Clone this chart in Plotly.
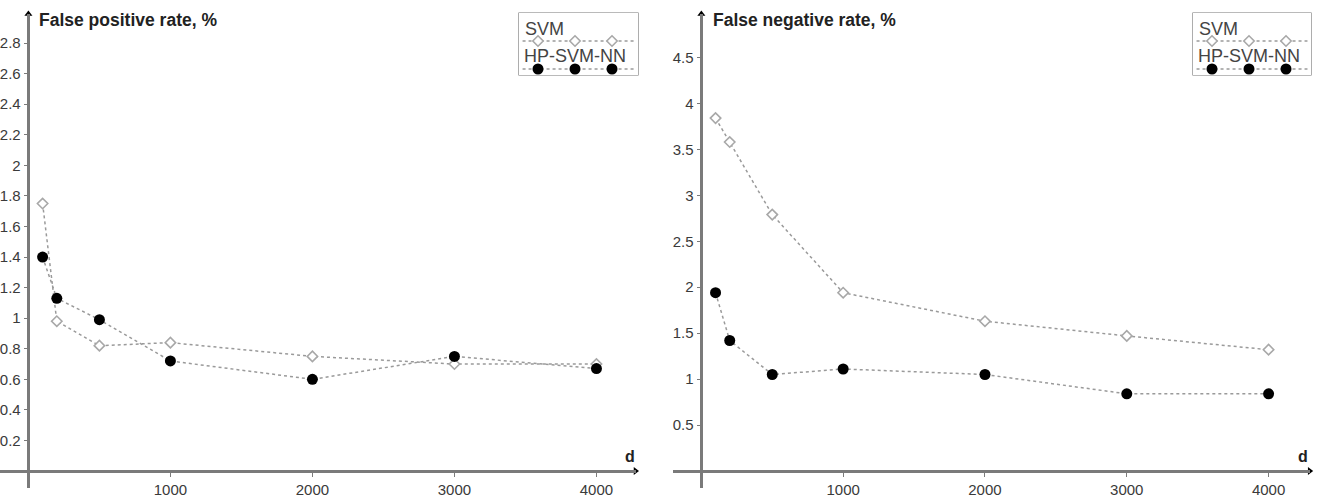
import plotly.graph_objects as go

# ---- data ----
d = [100, 200, 500, 1000, 2000, 3000, 4000]
svm_fpr = [1.75, 0.98, 0.82, 0.84, 0.75, 0.70, 0.70]
hp_fpr = [1.40, 1.13, 0.99, 0.72, 0.60, 0.75, 0.67]
svm_fnr = [3.84, 3.58, 2.79, 1.94, 1.63, 1.47, 1.32]
hp_fnr = [1.94, 1.42, 1.05, 1.11, 1.05, 0.84, 0.84]

x_ticks = [1000, 2000, 3000, 4000]
fpr_ticks = [0.2, 0.4, 0.6, 0.8, 1.0, 1.2, 1.4, 1.6, 1.8, 2.0, 2.2, 2.4, 2.6, 2.8]
fpr_labels = ["0.2", "0.4", "0.6", "0.8", "1", "1.2", "1.4", "1.6", "1.8", "2", "2.2", "2.4", "2.6", "2.8"]
fnr_ticks = [0.5, 1.0, 1.5, 2.0, 2.5, 3.0, 3.5, 4.0, 4.5]
fnr_labels = ["0.5", "1", "1.5", "2", "2.5", "3", "3.5", "4", "4.5"]
titles = ["False positive rate, %", "False negative rate, %"]
series_names = ["SVM", "HP-SVM-NN"]

W, H = 1326, 497
def px(p):
    return p / W
def py(p):
    return 1 - p / H

FONT = "Liberation Sans, Arial, sans-serif"
AXC = "#7a7a7a"
LINEC = "#9a9a9a"
TICKC = "#3a3a3a"

panels = [
    dict(xr=[-200, 4275], xd=[0, 635.5], yr=[-0.111, 2.99], ticks=fpr_ticks, labels=fpr_labels,
         svm=svm_fpr, hp=hp_fpr, title=titles[0], tx=37, leg=[519, 638, 13, 75], dx=630),
    dict(xr=[-200, 4290], xd=[673, 1309.7], yr=[-0.185, 4.973], ticks=fnr_ticks, labels=fnr_labels,
         svm=svm_fnr, hp=hp_fnr, title=titles[1], tx=711, leg=[1193, 1311, 13, 75], dx=1303),
]
ydom_px = [14, 488]
ydom = [py(ydom_px[1]), py(ydom_px[0])]

fig = go.Figure()
layout = dict(width=W, height=H, autosize=False, margin=dict(l=0, r=0, t=0, b=0),
              paper_bgcolor="white", plot_bgcolor="white", showlegend=False,
              font=dict(family=FONT, color="#444"))
shapes = []
annotations = []

for i, p in enumerate(panels):
    n = i + 1
    xa = "x" if n == 1 else f"x{n}"
    ya = "y" if n == 1 else f"y{n}"
    xd = [px(p["xd"][0]), px(p["xd"][1])]
    y0pos = ydom[0] + (0 - p["yr"][0]) / (p["yr"][1] - p["yr"][0]) * (ydom[1] - ydom[0])
    x0pos = xd[0] + (0 - p["xr"][0]) / (p["xr"][1] - p["xr"][0]) * (xd[1] - xd[0])
    layout["xaxis" if n == 1 else f"xaxis{n}"] = dict(
        domain=xd, range=p["xr"], anchor="free", position=y0pos,
        showline=True, linecolor=AXC, linewidth=2.5, showgrid=False, zeroline=False,
        tickvals=x_ticks, ticktext=[str(v) for v in x_ticks], ticks="outside", ticklen=4,
        tickcolor=AXC, tickwidth=1, tickfont=dict(size=15, color=TICKC, family=FONT),
    )
    layout["yaxis" if n == 1 else f"yaxis{n}"] = dict(
        domain=ydom, range=p["yr"], anchor="free", position=x0pos,
        showline=True, linecolor=AXC, linewidth=2.5, showgrid=False, zeroline=False,
        tickvals=p["ticks"], ticktext=p["labels"], ticks="outside", ticklen=4,
        tickcolor=AXC, tickwidth=1, tickfont=dict(size=15, color=TICKC, family=FONT),
    )
    fig.add_trace(go.Scatter(x=d, y=p["svm"], xaxis=xa, yaxis=ya, mode="lines+markers",
                             name=series_names[0],
                             line=dict(color=LINEC, width=1.5, dash="dot"),
                             marker=dict(symbol="diamond", size=8, color="white",
                                         line=dict(color="#a8a8a8", width=1.6)),
                             cliponaxis=False))
    fig.add_trace(go.Scatter(x=d, y=p["hp"], xaxis=xa, yaxis=ya, mode="lines+markers",
                             name=series_names[1],
                             line=dict(color=LINEC, width=1.5, dash="dot"),
                             marker=dict(symbol="circle", size=11, color="black",
                                         line=dict(color="black", width=0)),
                             cliponaxis=False))
    fig.add_trace(go.Scatter(x=[0], y=[p["yr"][1]], xaxis=xa, yaxis=ya, mode="markers",
                             marker=dict(symbol="triangle-up", size=7, color="black"),
                             cliponaxis=False, hoverinfo="skip"))
    fig.add_trace(go.Scatter(x=[p["xr"][1]], y=[0], xaxis=xa, yaxis=ya, mode="markers",
                             marker=dict(symbol="triangle-right", size=7, color="black"),
                             cliponaxis=False, hoverinfo="skip"))
    annotations.append(dict(xref="paper", yref="paper", x=px(p["tx"]), y=py(20),
                            xanchor="left", yanchor="middle", showarrow=False,
                            text="<b>" + p["title"] + "</b>",
                            font=dict(size=17.5, color="#222", family=FONT)))
    annotations.append(dict(xref="paper", yref="paper", x=px(p["dx"]), y=py(456),
                            xanchor="center", yanchor="middle", showarrow=False,
                            text="<b>d</b>", font=dict(size=16, color="#222", family=FONT)))
    l, r, t, b = p["leg"]
    shapes.append(dict(type="rect", xref="paper", yref="paper", x0=px(l), x1=px(r),
                       y0=py(b), y1=py(t), line=dict(color="#777", width=1.2),
                       fillcolor="white", layer="below"))
    annotations.append(dict(xref="paper", yref="paper", x=px(l + 4), y=py(29),
                            xanchor="left", yanchor="middle", showarrow=False,
                            text=series_names[0], font=dict(size=18, color="#444", family=FONT)))
    annotations.append(dict(xref="paper", yref="paper", x=px(l + 3), y=py(56),
                            xanchor="left", yanchor="middle", showarrow=False,
                            text=series_names[1], font=dict(size=18, color="#444", family=FONT)))
    lx = f"x{n + 2}"
    ly = f"y{n + 2}"
    layout[f"xaxis{n + 2}"] = dict(domain=[px(l), px(r)], range=[0, 1], visible=False,
                                   fixedrange=True, anchor=ly)
    layout[f"yaxis{n + 2}"] = dict(domain=[py(b), py(t)], range=[0, 1], visible=False,
                                   fixedrange=True, anchor=lx)
    hgt = b - t
    y_svm = (b - 41) / hgt
    y_hp = (b - 69) / hgt
    wid = r - l
    xs = [(p_ - l) / wid for p_ in [l + 19, l + 56, l + 93]]
    fig.add_trace(go.Scatter(x=[0.03, 0.97], y=[y_svm, y_svm], xaxis=lx, yaxis=ly, mode="lines",
                             line=dict(color=LINEC, width=1.5, dash="dot"), hoverinfo="skip"))
    fig.add_trace(go.Scatter(x=xs, y=[y_svm] * 3, xaxis=lx, yaxis=ly, mode="markers",
                             marker=dict(symbol="diamond", size=8, color="white",
                                         line=dict(color="#a8a8a8", width=1.6)),
                             hoverinfo="skip", cliponaxis=False))
    fig.add_trace(go.Scatter(x=[0.03, 0.97], y=[y_hp, y_hp], xaxis=lx, yaxis=ly, mode="lines",
                             line=dict(color=LINEC, width=1.5, dash="dot"), hoverinfo="skip"))
    fig.add_trace(go.Scatter(x=xs, y=[y_hp] * 3, xaxis=lx, yaxis=ly, mode="markers",
                             marker=dict(symbol="circle", size=11, color="black"),
                             hoverinfo="skip", cliponaxis=False))

layout["shapes"] = shapes
layout["annotations"] = annotations
fig.update_layout(**layout)
fig.write_html("out.html")
